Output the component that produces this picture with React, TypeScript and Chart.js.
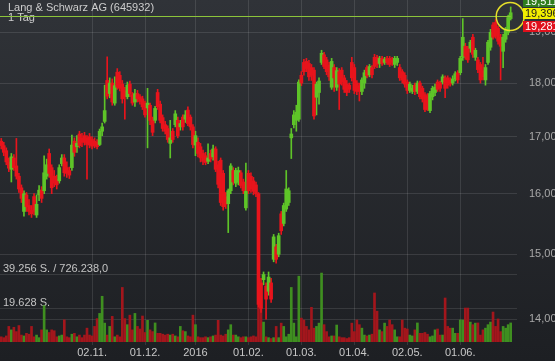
import { useEffect, useRef } from 'react';
import { Chart, registerables } from 'chart.js';

Chart.register(...registerables);

// ---- data ----
const SLOT_COUNT = 205;
const tickIndex = [36, 57, 77, 98, 119, 140, 161, 182];
const tickText = ['02.11.', '01.12.', '2016', '01.02.', '01.03.', '01.04.', '02.05.', '01.06.'];
const priceTicks = [14, 15, 16, 17, 18, 19];
const priceMin = 13.662;
const priceMax = 19.665;
const volumeMax = 197434;
const titleLines = ['Lang & Schwarz AG (645932)', '1 Tag'];
const volumeLines = [19628, 39256];
const volumeLabels = ['19.628 S.', '39.256 S. / 726.238,0'];
const lastLine = 19.34;
const quoteTexts = ['19,511', '19,396', '19,281'];

const openP = [
  16.92, 16.84, 16.75, 16.55, 16.42, 16.62, 16.48, 16.30, 16.10, 15.70,
  15.98, 15.80, 15.72, 15.95, 15.64, 15.98, 16.06, 16.05, 16.30, 16.70,
  16.45, 16.30, 16.25, 16.22, 16.52, 16.62, 16.45, 16.40, 16.45, 16.92,
  16.82, 17.05, 16.98, 17.02, 16.98, 17.00, 16.95, 16.92, 16.90, 16.86,
  17.10, 17.28, 18.05, 17.80, 18.00, 17.62, 18.21, 18.15, 17.98, 17.85,
  17.74, 17.98, 17.78, 17.64, 17.80, 17.74, 17.70, 17.62, 17.53, 17.58,
  17.30, 17.30, 17.82, 17.60, 17.35, 17.22, 17.15, 16.88, 17.10, 17.22,
  17.30, 17.18, 17.36, 17.32, 17.49, 17.36, 17.18, 16.85, 16.90, 16.82,
  16.70, 16.66, 16.56, 16.70, 16.64, 16.78, 16.50, 16.58, 16.35, 15.95,
  15.83, 16.05, 16.40, 16.18, 16.20, 16.36, 16.20, 15.76, 16.35, 16.30,
  16.22, 16.15, 16.00, 14.55, 14.60, 14.50, 14.42, 14.55, 14.92, 15.12,
  15.00, 15.66, 15.50, 15.74, 15.85, 16.98, 17.22, 17.30, 17.32, 18.15,
  18.40, 18.42, 18.38, 18.30, 18.25, 17.73, 17.82, 18.40, 18.55, 18.45,
  18.35, 17.92, 18.30, 17.92, 18.22, 18.25, 18.10, 17.98, 17.96, 18.40,
  18.30, 18.00, 17.95, 17.84, 18.00, 18.30, 18.16, 18.30, 18.50, 18.50,
  18.38, 18.48, 18.40, 18.48, 18.48, 18.45, 18.36, 18.40, 18.30, 18.22,
  18.15, 18.02, 17.86, 17.84, 17.96, 17.84, 18.00, 17.90, 17.78, 17.76,
  17.48, 17.74, 17.82, 18.02, 18.00, 18.02, 18.10, 18.10, 18.06, 18.00,
  18.08, 18.20, 18.20, 18.50, 18.72, 18.68, 18.68, 18.90, 18.50, 18.45,
  18.36, 18.24, 18.06, 18.40, 18.70, 19.15, 19.20, 19.08, 18.90, 18.62,
  18.86, 19.00, 19.28,
];

const highP = [
  16.97, 16.90, 16.80, 16.62, 16.70, 16.68, 16.97, 16.35, 16.15, 16.05,
  16.02, 15.90, 15.80, 16.00, 15.98, 16.14, 16.12, 16.66, 16.60, 16.78,
  16.50, 16.40, 16.32, 16.50, 16.68, 16.68, 16.55, 16.46, 17.03, 16.98,
  17.02, 17.10, 17.06, 17.08, 17.02, 17.06, 17.00, 16.98, 16.95, 17.14,
  17.25, 17.96, 18.51, 18.10, 18.08, 18.12, 18.28, 18.22, 18.05, 17.92,
  18.02, 18.04, 17.82, 17.88, 17.86, 17.78, 17.75, 17.66, 17.90, 17.62,
  17.36, 17.56, 17.88, 17.66, 17.40, 17.28, 17.20, 17.30, 17.15, 17.48,
  17.36, 17.30, 17.40, 17.48, 17.55, 17.40, 17.22, 17.10, 16.98, 16.88,
  16.76, 16.72, 16.87, 16.76, 16.85, 16.82, 16.56, 16.62, 16.40, 16.02,
  16.08, 16.52, 16.45, 16.44, 16.46, 16.40, 16.25, 16.53, 16.40, 16.36,
  16.28, 16.20, 16.02, 14.62, 14.72, 14.55, 14.72, 14.62, 15.32, 15.16,
  15.34, 15.70, 15.84, 16.40, 16.10, 17.15, 17.48, 17.58, 18.06, 18.22,
  18.46, 18.48, 18.44, 18.36, 18.30, 18.02, 18.10, 18.64, 18.60, 18.50,
  18.40, 18.48, 18.36, 18.30, 18.28, 18.30, 18.15, 18.05, 18.00, 18.50,
  18.36, 18.05, 18.00, 18.10, 18.25, 18.34, 18.36, 18.34, 18.56, 18.54,
  18.52, 18.52, 18.50, 18.52, 18.52, 18.50, 18.52, 18.52, 18.36, 18.26,
  18.20, 18.06, 18.02, 17.96, 18.00, 18.04, 18.04, 17.94, 17.82, 17.80,
  17.84, 17.94, 17.98, 18.06, 18.04, 18.16, 18.14, 18.14, 18.10, 18.14,
  18.22, 18.24, 18.52, 19.28, 18.78, 18.72, 18.84, 18.96, 18.68, 18.50,
  18.40, 18.50, 18.36, 18.84, 19.06, 19.20, 19.26, 19.12, 18.96, 18.96,
  19.10, 19.35, 19.52,
];

const lowP = [
  16.78, 16.66, 16.50, 16.38, 16.20, 16.40, 16.25, 16.02, 15.85, 15.62,
  15.70, 15.64, 15.60, 15.64, 15.60, 15.88, 15.85, 16.00, 16.25, 16.28,
  16.00, 16.12, 16.08, 16.18, 16.48, 16.30, 16.28, 16.26, 16.40, 16.65,
  16.72, 16.80, 16.82, 16.85, 16.25, 16.80, 16.78, 16.80, 16.78, 16.84,
  17.02, 17.25, 17.70, 17.72, 17.58, 17.58, 17.88, 17.85, 17.62, 17.32,
  17.70, 17.74, 17.58, 17.56, 17.64, 17.60, 17.50, 17.36, 16.80, 17.22,
  17.02, 17.25, 17.50, 17.25, 17.10, 17.05, 16.90, 16.62, 16.90, 17.18,
  16.98, 17.12, 17.12, 17.26, 17.20, 17.12, 16.80, 16.66, 16.64, 16.55,
  16.50, 16.50, 16.52, 16.55, 16.58, 16.38, 16.10, 15.80, 15.72, 15.75,
  15.35, 16.00, 16.15, 16.12, 16.15, 16.10, 16.00, 15.72, 16.00, 16.02,
  15.98, 15.95, 14.18, 14.10, 14.52, 14.00, 14.36, 14.25, 14.88, 14.86,
  14.96, 15.32, 15.46, 15.70, 15.80, 16.61, 17.16, 17.10, 17.28, 17.95,
  18.15, 18.22, 18.05, 18.05, 17.32, 17.40, 17.60, 18.36, 18.28, 18.16,
  18.05, 17.88, 17.84, 17.86, 17.50, 17.96, 17.82, 17.76, 17.82, 18.04,
  17.80, 17.78, 17.66, 17.78, 17.90, 18.10, 18.12, 18.10, 18.28, 18.30,
  18.30, 18.34, 18.36, 18.36, 18.32, 18.34, 18.30, 18.34, 18.05, 18.00,
  17.92, 17.80, 17.82, 17.80, 17.78, 17.80, 17.70, 17.64, 17.46, 17.48,
  17.44, 17.68, 17.76, 17.84, 17.84, 17.98, 17.72, 17.90, 17.94, 17.96,
  18.04, 18.00, 18.16, 18.44, 18.46, 18.40, 18.60, 18.50, 18.44, 18.20,
  18.00, 18.06, 17.96, 18.36, 18.64, 18.86, 18.88, 18.76, 18.06, 18.30,
  18.80, 18.95, 19.25,
];

const closeP = [
  16.84, 16.72, 16.55, 16.44, 16.64, 16.45, 16.30, 16.08, 15.92, 16.00,
  15.78, 15.70, 15.66, 15.70, 15.82, 16.06, 15.92, 16.36, 16.50, 16.35,
  16.10, 16.18, 16.15, 16.45, 16.62, 16.36, 16.35, 16.32, 16.85, 16.72,
  16.88, 16.84, 16.90, 16.90, 16.86, 16.85, 16.83, 16.84, 16.82, 17.10,
  17.18, 17.48, 17.75, 18.00, 17.64, 17.95, 17.92, 17.90, 17.70, 17.75,
  17.96, 17.80, 17.62, 17.80, 17.70, 17.65, 17.55, 17.40, 17.62, 17.30,
  17.08, 17.52, 17.55, 17.30, 17.15, 17.10, 16.95, 16.98, 16.95, 17.42,
  17.02, 17.24, 17.18, 17.40, 17.24, 17.18, 16.86, 17.02, 16.70, 16.62,
  16.56, 16.54, 16.62, 16.60, 16.78, 16.42, 16.16, 15.85, 15.78, 15.82,
  16.05, 16.48, 16.20, 16.40, 16.40, 16.14, 16.05, 16.04, 16.05, 16.08,
  16.04, 16.00, 14.22, 14.16, 14.68, 14.30, 14.64, 14.30, 15.28, 14.92,
  15.30, 15.38, 15.80, 16.08, 16.05, 17.05, 17.40, 17.45, 18.02, 18.00,
  18.22, 18.28, 18.12, 18.15, 17.38, 17.98, 18.04, 18.58, 18.32, 18.22,
  18.12, 18.42, 18.10, 18.24, 17.98, 18.02, 17.88, 17.82, 17.88, 18.10,
  17.86, 17.84, 17.84, 18.06, 18.20, 18.14, 18.32, 18.16, 18.32, 18.36,
  18.48, 18.38, 18.46, 18.40, 18.36, 18.40, 18.48, 18.48, 18.10, 18.06,
  17.98, 17.86, 17.98, 17.90, 17.84, 18.00, 17.74, 17.70, 17.50, 17.50,
  17.80, 17.90, 17.92, 17.88, 17.90, 18.12, 17.90, 17.96, 17.98, 18.08,
  18.18, 18.06, 18.48, 18.90, 18.52, 18.45, 18.80, 18.56, 18.64, 18.26,
  18.06, 18.12, 18.30, 18.80, 19.00, 18.90, 18.92, 18.82, 18.72, 18.90,
  19.05, 19.30, 19.40,
];

const volume = [
  3000, 2500, 3500, 9000, 7000, 8500, 6000, 9500, 4000, 3500,
  5000, 4500, 9000, 3000, 4000, 2500, 7000, 21000, 7000, 5500,
  7000, 6500, 3000, 3500, 4000, 12800, 3000, 2500, 4500, 5000,
  3000, 4000, 2500, 4000, 8000, 4000, 3500, 9000, 13500, 16500,
  26400, 10900, 4000, 9000, 14800, 3000, 4000, 3000, 31500, 13500,
  10000, 15500, 7000, 16500, 9000, 7500, 15000, 5500, 12500, 7000,
  6000, 11000, 5000, 5000, 4500, 4000, 4500, 4000, 4500, 3500,
  3000, 9000, 6500, 6000, 3500, 3000, 15500, 10000, 3000, 2500,
  2500, 3000, 2500, 3000, 3500, 4000, 12500, 4000, 3500, 4500,
  7000, 10000, 4000, 4000, 3000, 2500, 3000, 3000, 2500, 3000,
  3500, 3000, 24000, 20000, 11500, 3000, 2500, 2000, 2500, 9000,
  2500, 10900, 9000, 3000, 4500, 31500, 10900, 3000, 38000, 13800,
  12700, 9000, 7000, 20000, 8000, 9000, 10900, 39800, 10000, 6000,
  3000, 3500, 3500, 9800, 3000, 2500, 2500, 2000, 2500, 10900,
  6000, 12700, 10000, 8000, 4000, 3500, 4000, 4500, 28300, 17800,
  7000, 6000, 10900, 9000, 12700, 10000, 7000, 3000, 3000, 12700,
  8000, 7500, 4000, 3500, 7000, 11000, 5000, 5000, 5500, 4500,
  3000, 3500, 7000, 7500, 4000, 4000, 25400, 9000, 8000, 8000,
  5000, 5000, 12700, 12700, 19600, 19600, 11500, 10000, 10900, 11000,
  4000, 7000, 8000, 10000, 11500, 17300, 9000, 13300, 6000, 9000,
  8000, 10000, 11000,
];

// ---- styles ----
const FONT = "'Liberation Sans', Arial, sans-serif";
const GRID = 'rgba(255,255,255,0.11)';
const UP = '#5ec428';
const DOWN = '#e8141c';
const VOL_UP = '#3f8f20';
const VOL_DOWN = '#a3161c';

const decorPlugin = {
  id: 'decor',
  beforeDraw(chart: any) {
    const { ctx, width, height } = chart;
    const g = ctx.createLinearGradient(0, 0, 0, height);
    g.addColorStop(0, '#303338');
    g.addColorStop(1, '#1d1f23');
    ctx.save();
    ctx.fillStyle = g;
    ctx.fillRect(0, 0, width, height);
    ctx.restore();
  },
  beforeDatasetsDraw(chart: any) {
    const { ctx, chartArea } = chart;
    const yv = chart.scales.yv;
    ctx.save();
    ctx.strokeStyle = GRID;
    ctx.lineWidth = 1;
    ctx.font = `11px ${FONT}`;
    ctx.textBaseline = 'middle';
    ctx.textAlign = 'left';
    volumeLines.forEach((v, k) => {
      const y = Math.round(yv.getPixelForValue(v)) + 0.5;
      ctx.beginPath();
      ctx.moveTo(chartArea.left, y);
      ctx.lineTo(chartArea.right, y);
      ctx.stroke();
      ctx.fillStyle = '#c4c4c4';
      ctx.fillText(volumeLabels[k], 3, y - 6);
    });
    ctx.fillStyle = '#cdcdcd';
    ctx.fillText(titleLines[0], 8, 8);
    ctx.fillText(titleLines[1], 8, 18);
    ctx.restore();
  },
  afterDatasetsDraw(chart: any) {
    const { ctx, chartArea } = chart;
    const ys = chart.scales.y;
    const xs = chart.scales.x;
    const ly = Math.round(ys.getPixelForValue(lastLine)) + 0.5;
    const lastX = xs.getPixelForValue(closeP.length - 1);
    ctx.save();
    ctx.strokeStyle = '#8cc43a';
    ctx.lineWidth = 1;
    ctx.beginPath();
    ctx.moveTo(chartArea.left, ly);
    ctx.lineTo(lastX, ly);
    ctx.stroke();
    ctx.strokeStyle = '#e6df2a';
    ctx.lineWidth = 1.5;
    ctx.beginPath();
    ctx.arc(lastX - 0.5, ly, 14, 0, Math.PI * 2);
    ctx.stroke();
    ctx.restore();
  },
  afterDraw(chart: any) {
    const { ctx } = chart;
    const left = 523;
    const right = chart.width;
    const boxes = [
      { top: -4, h: 11, fill: '#2f7d1e', color: '#ffffff' },
      { top: 8, h: 11, fill: '#f2ee00', color: '#1c1c1c' },
      { top: 21, h: 11, fill: '#e0101c', color: '#ffffff' },
    ];
    ctx.save();
    ctx.font = `11px ${FONT}`;
    ctx.textBaseline = 'middle';
    ctx.textAlign = 'left';
    boxes.forEach((b, k) => {
      ctx.fillStyle = b.fill;
      ctx.fillRect(left, b.top, right - left, b.h);
      ctx.fillStyle = b.color;
      ctx.fillText(quoteTexts[k], left + 2, b.top + b.h / 2 + 0.5);
    });
    ctx.restore();
  },
};

export default function App() {
  const ref = useRef<HTMLCanvasElement>(null);

  useEffect(() => {
    const canvas = ref.current;
    if (!canvas) return;
    const labels: string[] = Array.from({ length: SLOT_COUNT }, () => '');
    tickIndex.forEach((idx, k) => {
      labels[idx] = tickText[k];
    });
    const up = closeP.map((c, i) => c >= openP[i]);
    const font = { family: FONT, size: 11 };

    const chart = new Chart(canvas, {
      type: 'bar',
      data: {
        labels,
        datasets: [
          {
            label: 'Volumen',
            data: volume,
            yAxisID: 'yv',
            backgroundColor: up.map((u) => (u ? VOL_UP : VOL_DOWN)),
            barThickness: 2,
            grouped: false,
            order: 3,
          } as any,
          {
            label: 'Hoch/Tief',
            data: lowP.map((l, i) => [l, highP[i]]),
            yAxisID: 'y',
            backgroundColor: up.map((u) => (u ? UP : DOWN)),
            barThickness: 1,
            grouped: false,
            order: 2,
          } as any,
          {
            label: 'Eröffnung/Schluss',
            data: openP.map((o, i) => [o, closeP[i]]),
            yAxisID: 'y',
            backgroundColor: up.map((u) => (u ? UP : DOWN)),
            barThickness: 3,
            minBarLength: 1,
            grouped: false,
            order: 1,
          } as any,
        ],
      },
      options: {
        responsive: false,
        animation: false,
        devicePixelRatio: 1,
        layout: { padding: 0 },
        plugins: {
          legend: { display: false },
          tooltip: { enabled: false },
          title: { display: false },
        },
        scales: {
          x: {
            type: 'category',
            offset: true,
            grid: { offset: false, color: GRID, drawTicks: true, tickLength: 3 },
            border: { display: false },
            ticks: {
              autoSkip: false,
              maxRotation: 0,
              minRotation: 0,
              padding: 1,
              color: '#c8c8c8',
              font,
              callback: (_v: any, idx: number) => (labels[idx] ? labels[idx] : null),
            },
            afterFit: (s: any) => {
              s.height = 19;
              s.paddingLeft = 0;
              s.paddingRight = 0;
            },
          },
          y: {
            type: 'logarithmic',
            position: 'right',
            min: priceMin,
            max: priceMax,
            grid: { color: GRID, drawTicks: false },
            border: { display: false },
            afterBuildTicks: (s: any) => {
              s.ticks = priceTicks.map((v) => ({ value: v }));
            },
            ticks: {
              padding: 12,
              color: '#a8a8a8',
              font,
              callback: (v: any) => Number(v).toFixed(2).replace('.', ','),
            },
            afterFit: (s: any) => {
              s.width = 38;
              s.paddingTop = 0;
              s.paddingBottom = 0;
            },
          },
          yv: {
            type: 'linear',
            display: false,
            min: 0,
            max: volumeMax,
          },
        },
      } as any,
      plugins: [decorPlugin],
    });
    return () => chart.destroy();
  }, []);

  return (
    <div style={{ position: 'absolute', left: 0, top: 0, width: 555, height: 361 }}>
      <canvas ref={ref} width={555} height={361} style={{ display: 'block' }} />
    </div>
  );
}
